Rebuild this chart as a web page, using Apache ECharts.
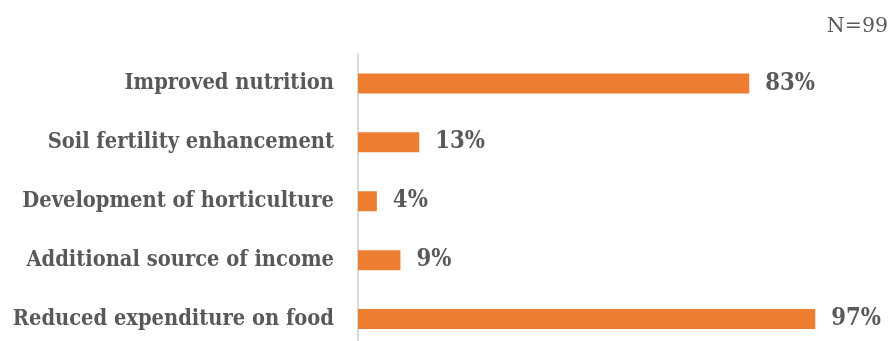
<!DOCTYPE html>
<html>
<head>
<meta charset="utf-8">
<script src="https://cdn.jsdelivr.net/npm/echarts@6/dist/echarts.min.js"></script>
<style>
  html, body { margin: 0; padding: 0; background: #ffffff; }
  #chart { width: 889px; height: 341px; }
</style>
</head>
<body>
<div id="chart"></div>
<script>
// Benefits reported by respondents (share of N=99), top to bottom
const categories = [
  'Improved nutrition',
  'Soil fertility enhancement',
  'Development of horticulture',
  'Additional source of income',
  'Reduced expenditure on food'
];
const percentValues = [83, 13, 4, 9, 97];
const sampleNote = 'N=99';

const textColor = '#595959';
const barColor = '#ED7D31';
const serifFont = '"DejaVu Serif", serif';
const condensedSerif = '"DejaVu Serif Condensed", "DejaVu Serif", serif';

const chart = echarts.init(document.getElementById('chart'), null, { renderer: 'canvas' });

chart.setOption({
  animation: false,
  backgroundColor: '#ffffff',
  title: {
    text: sampleNote,
    right: 1,
    top: 16,
    padding: 0,
    textStyle: { color: textColor, fontFamily: serifFont, fontWeight: 'normal', fontSize: 20.5 }
  },
  grid: {
    left: 358,
    right: 59.6,
    top: 54,
    height: 294.5,
    containLabel: false,
    outerBoundsMode: 'none'
  },
  xAxis: {
    type: 'value',
    min: 0,
    max: 100,
    show: false
  },
  yAxis: {
    type: 'category',
    inverse: true,
    data: categories,
    axisLine: { show: true, lineStyle: { color: '#D9D9D9', width: 2 } },
    axisTick: { show: false },
    axisLabel: {
      margin: 24,
      color: textColor,
      fontFamily: condensedSerif,
      fontWeight: 'bold',
      fontSize: 21.7
    }
  },
  series: [{
    type: 'bar',
    data: percentValues,
    barWidth: '34%',
    itemStyle: { color: barColor },
    label: {
      show: true,
      position: 'right',
      distance: 16,
      formatter: p => p.value + '%',
      color: textColor,
      fontFamily: condensedSerif,
      fontWeight: 'bold',
      fontSize: 23.6
    }
  }]
});
</script>
</body>
</html>
